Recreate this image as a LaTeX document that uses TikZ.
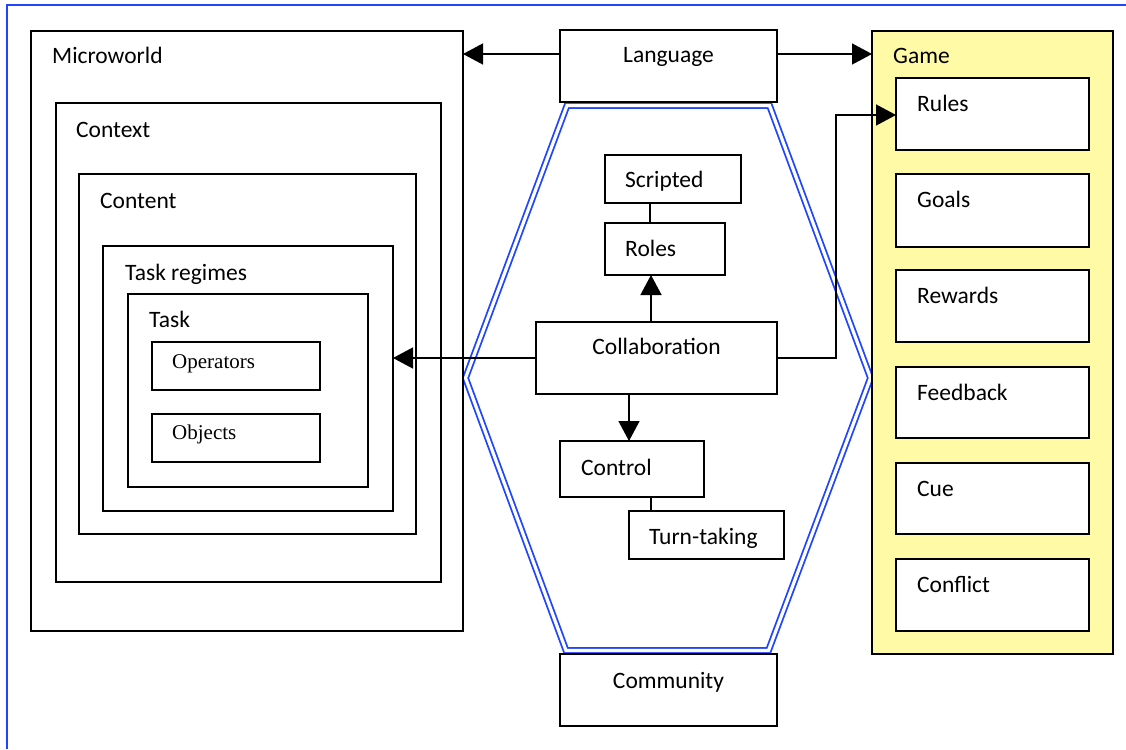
\documentclass[tikz,border=0pt]{standalone}
\usepackage{fontspec}
\setmainfont{Carlito}
\newfontfamily\tnr{Liberation Serif}
\usetikzlibrary{arrows.meta}
\definecolor{frameblue}{HTML}{1F45FF}
\definecolor{gameyellow}{HTML}{FFFAA5}
\newcommand\mybox[6][box]{\node[#1, minimum width={#4-#2}, minimum height={#5-#3}] (#6) at (#2,#3) {};}
\begin{document}
\begin{tikzpicture}[x=1pt,y=-1pt,
  box/.style={draw, line width=1.4pt, fill=white, inner sep=0pt, outer sep=0pt, anchor=north west},
  thickbox/.style={box, line width=2.1pt},
  gamebox/.style={box, line width=2.1pt, fill=gameyellow},
  lbl/.style={anchor=base west, inner sep=0pt, font=\fontsize{23.5}{28}\selectfont},
  clbl/.style={anchor=base, inner sep=0pt, font=\fontsize{23.5}{28}\selectfont},
  slbl/.style={anchor=base west, inner sep=0pt, font=\tnr\fontsize{21}{25}\selectfont},
  arr/.style={line width=1.4pt, -{Triangle[length=20pt,width=21pt]}},
  link/.style={line width=1.4pt},
  hex/.style={draw=frameblue, line width=1.8pt, double=white, double distance=3.2pt, line join=miter}
]
\useasboundingbox (0,0) rectangle (1126,749);
% outer blue frame (top and left edges)
\draw[frameblue, line width=1.6pt] (7,749) -- (7,5) -- (1126,5);

% hexagon
\draw[hex] (567,105.5) -- (769.5,105.5) -- (870.5,378) -- (768.5,650.5) -- (566,650.5) -- (465.5,378) -- cycle;

% left nested boxes
\mybox[thickbox]{31}{31}{463}{631}{micro}
\mybox{56}{103}{441}{582}{context}
\mybox{79}{174}{416}{534}{content}
\mybox[thickbox]{103}{246}{393}{511}{regimes}
\mybox{128}{294}{368}{487}{task}
\mybox{152}{342}{320}{390}{ops}
\mybox{152}{414}{320}{462}{objs}
\node[lbl] (micro-t) at (52,64) {Microworld};
\node[lbl] (context-t) at (76,137) {Context};
\node[lbl] (content-t) at (100,208) {Content};
\node[lbl] (regimes-t) at (125,280) {Task regimes};
\node[lbl] (task-t) at (149,327) {Task};
\node[slbl] (ops-t) at (172,368) {Operators};
\node[slbl] (objs-t) at (172,439) {Objects};

% centre boxes
\mybox{560}{30}{777}{102}{lang}
\mybox{560}{654}{777}{726}{comm}
\mybox{536}{322}{777}{394}{collab}
\mybox{605}{155}{741}{203}{scripted}
\mybox{605}{223}{725}{275}{roles}
\mybox{560}{441}{704}{497}{control}
\mybox{629}{511}{784}{559}{turn}
\node[clbl] (lang-t) at (668.5,63) {Language};
\node[clbl] (comm-t) at (668.5,688) {Community};
\node[clbl] (collab-t) at (656.5,354) {Collaboration};
\node[lbl] (scripted-t) at (625,187) {Scripted};
\node[lbl] (roles-t) at (625,256) {Roles};
\node[lbl] (control-t) at (581,475) {Control};
\node[lbl] (turn-t) at (649,544) {Turn-taking};

% game panel
\mybox[gamebox]{872}{31}{1113}{654}{game}
\mybox[thickbox]{896}{78}{1089}{150}{rules}
\mybox{896}{174}{1089}{247}{goals}
\mybox{896}{270}{1089}{342}{rewards}
\mybox{896}{367}{1089}{438}{feedback}
\mybox{896}{463}{1089}{534}{cue}
\mybox{896}{559}{1089}{631}{conflict}
\node[lbl] (game-t) at (893,64) {Game};
\node[lbl] (rules-t) at (917,112) {Rules};
\node[lbl] (goals-t) at (917,207) {Goals};
\node[lbl] (rewards-t) at (917,303) {Rewards};
\node[lbl] (feedback-t) at (917,400) {Feedback};
\node[lbl] (cue-t) at (917,496) {Cue};
\node[lbl] (conflict-t) at (917,592) {Conflict};

% connectors
\draw[arr] (lang.west |- 0,54) -- (micro.east |- 0,54);
\draw[arr] (lang.east |- 0,54) -- (game.west |- 0,54);
\draw[arr] (collab.west |- 0,358) -- (regimes.east |- 0,358);
\coordinate (bend) at (836,115);
\draw[arr] (collab.east |- 0,358) -| (bend) -- (rules.west |- bend);
\draw[arr] (collab.north -| 651,0) -- (roles.south -| 651,0);
\draw[link] (scripted.south -| 650,0) -- (roles.north -| 650,0);
\draw[arr] (collab.south -| 629,0) -- (control.north -| 629,0);
\draw[link] (control.south -| 651,0) -- (turn.north -| 651,0);
\end{tikzpicture}
\end{document}
